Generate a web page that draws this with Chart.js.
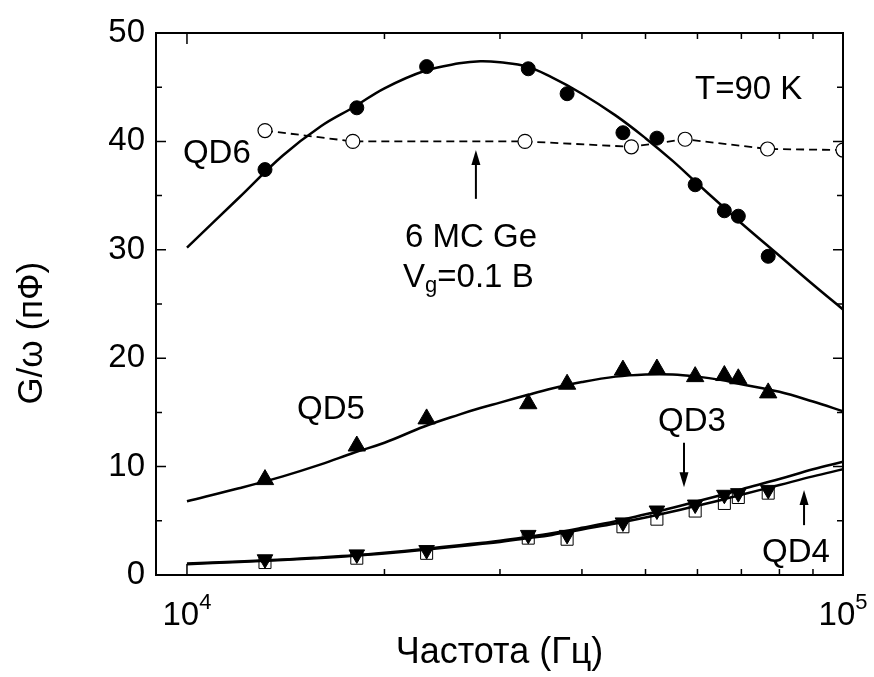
<!DOCTYPE html>
<html lang="ru">

<head>
  <meta charset="UTF-8">
  <title>G/ω vs frequency</title>
  <script src="https://cdn.jsdelivr.net/npm/chart.js@4"></script>
  <style>
    html,
    body {
      margin: 0;
      padding: 0;
      background: #fff;
    }
  </style>
</head>

<body>
  <canvas id="chart" width="874" height="677"></canvas>

  <script>
    // measured points (Hz / pF)
    const freqMeas = [13150, 18150, 23190, 33130, 37970, 46190, 52040, 59520, 65940, 69250, 76910];
    const qd6 = [37.4, 43.1, 46.9, 46.7, 44.4, 40.8, 40.3, 36.0, 33.6, 33.1, 29.4];
    const qd5 = [8.8, 11.9, 14.4, 15.8, 17.6, 18.9, 19.0, 18.3, 18.4, 18.1, 16.8];
    const qd3 = [1.45, 1.9, 2.3, 3.7, 3.7, 4.85, 5.95, 6.5, 7.4, 7.55, 7.85];
    const qd4 = [1.15, 1.55, 2.0, 3.4, 3.3, 4.45, 5.15, 5.9, 6.6, 7.15, 7.55];

    // 6 MC Ge, Vg = 0.1 B (open circles, dashed)
    const freqGe = [13150, 17900, 32750, 47580, 57450, 76740, 100000];
    const ge6 = [41.0, 40.0, 40.0, 39.5, 40.2, 39.3, 39.2];

    // fitted curves
    const freqFit = [10000, 12000, 14000, 16000, 18000, 20000, 23000, 26000, 28000, 30000, 33000,
      36000, 40000, 45000, 50000, 55000, 60000, 65000, 70000, 80000, 90000, 100000];
    const fitQD6 = [30.2, 34.8, 38.7, 41.4, 43.2, 44.9, 46.5, 47.2, 47.4, 47.3, 46.9,
      45.9, 44.4, 42.4, 40.3, 38.2, 36.1, 34.2, 32.45, 29.45, 26.8, 24.5];
    const fitQD5 = [6.8, 8.0, 9.1, 10.2, 11.3, 12.2, 13.7, 14.8, 15.4, 15.9, 16.6,
      17.2, 17.8, 18.3, 18.5, 18.5, 18.3, 18.0, 17.6, 16.9, 16.0, 15.1];
    const fitQD3 = [1.05, 1.25, 1.42, 1.62, 1.82, 2.05, 2.4, 2.75, 2.95, 3.15, 3.5,
      3.85, 4.35, 4.95, 5.6, 6.2, 6.8, 7.35, 7.9, 8.85, 9.75, 10.45];
    const fitQD4 = [1.0, 1.2, 1.38, 1.57, 1.77, 1.98, 2.32, 2.65, 2.85, 3.05, 3.38,
      3.7, 4.2, 4.75, 5.3, 5.85, 6.4, 6.9, 7.4, 8.3, 9.1, 9.75];

    // axis ticks
    const xMajor = [10000, 100000];
    const xMinor = [20000, 30000, 40000, 50000, 60000, 70000, 80000, 90000];
    const yTicks = [0, 5, 10, 15, 20, 25, 30, 35, 40, 45, 50];

    const FONT = '"Liberation Sans", Arial, sans-serif';

    const pts = (xs, ys) => xs.map((x, i) => ({ x: x, y: ys[i] }));

    // free text and arrows (data coordinates)
    const notes = [
      { text: 'QD6', x: 9860, y: 38.0 },
      { text: 'T=90 K', x: 59480, y: 43.9 },
      { text: 'QD5', x: 14720, y: 14.4 },
      { text: 'QD3', x: 52240, y: 13.3 },
      { text: 'QD4', x: 75250, y: 1.2 },
      { text: '6 MC Ge', x: 21500, y: 30.26 }
    ];
    const arrows = [
      { x: 27570, from: 34.7, to: 39.2 },
      { x: 57230, from: 12.2, to: 8.1 },
      { x: 87220, from: 4.6, to: 7.85 }
    ];

    const fitLine = (data) => ({
      data: data,
      showLine: true,
      borderColor: '#000',
      borderWidth: 2.5,
      pointRadius: 0,
      tension: 0.4,
      fill: false
    });

    const axisFrame = {
      id: 'axisFrame',
      afterDraw(chart) {
        const { ctx, chartArea: a, scales: { x, y } } = chart;
        ctx.save();
        ctx.strokeStyle = '#000';
        ctx.fillStyle = '#000';

        // ticks, inside, on all four sides
        ctx.lineWidth = 1.5;
        ctx.beginPath();
        const xt = (v, len) => {
          const px = x.getPixelForValue(v);
          ctx.moveTo(px, a.bottom); ctx.lineTo(px, a.bottom - len);
          ctx.moveTo(px, a.top); ctx.lineTo(px, a.top + len);
        };
        xMajor.forEach(v => xt(v, 11));
        xMinor.forEach(v => xt(v, 6));
        yTicks.forEach(v => {
          const py = y.getPixelForValue(v);
          const len = v % 10 === 0 ? 10 : 6;
          ctx.moveTo(a.left, py); ctx.lineTo(a.left + len, py);
          ctx.moveTo(a.right, py); ctx.lineTo(a.right - len, py);
        });
        ctx.stroke();

        ctx.lineWidth = 2;
        ctx.strokeRect(a.left, a.top, a.right - a.left, a.bottom - a.top);

        // x tick labels 10^4, 10^5
        ctx.textBaseline = 'alphabetic';
        ctx.textAlign = 'left';
        xMajor.forEach(v => {
          const exp = String(Math.round(Math.log10(v)));
          ctx.font = '33px ' + FONT;
          const wBase = ctx.measureText('10').width;
          ctx.font = '22px ' + FONT;
          const wExp = ctx.measureText(exp).width;
          const left = x.getPixelForValue(v) - (wBase + wExp) / 2;
          const base = a.bottom + 50;
          ctx.font = '33px ' + FONT;
          ctx.fillText('10', left, base);
          ctx.font = '22px ' + FONT;
          ctx.fillText(exp, left + wBase, base - 16);
        });

        // annotations
        ctx.font = '33px ' + FONT;
        notes.forEach(n => {
          ctx.fillText(n.text, x.getPixelForValue(n.x), y.getPixelForValue(n.y));
        });
        // V_g=0.1 B
        let vx = x.getPixelForValue(21350);
        const vy = y.getPixelForValue(26.57);
        ctx.fillText('V', vx, vy);
        vx += ctx.measureText('V').width;
        ctx.font = '22px ' + FONT;
        ctx.fillText('g', vx, vy + 5);
        vx += ctx.measureText('g').width;
        ctx.font = '33px ' + FONT;
        ctx.fillText('=0.1 B', vx, vy);

        // arrows
        arrows.forEach(ar => {
          const px = x.getPixelForValue(ar.x);
          const y0 = y.getPixelForValue(ar.from);
          const y1 = y.getPixelForValue(ar.to);
          const dir = y1 < y0 ? 1 : -1;
          ctx.lineWidth = 2;
          ctx.beginPath();
          ctx.moveTo(px, y0);
          ctx.lineTo(px, y1 + dir * 10);
          ctx.stroke();
          ctx.beginPath();
          ctx.moveTo(px, y1);
          ctx.lineTo(px - 4.5, y1 + dir * 15);
          ctx.lineTo(px + 4.5, y1 + dir * 15);
          ctx.closePath();
          ctx.fill();
        });
        ctx.restore();
      }
    };

    new Chart(document.getElementById('chart'), {
      type: 'scatter',
      data: {
        datasets: [
          {
            label: 'QD3',
            data: pts(freqMeas, qd3),
            pointStyle: 'triangle',
            rotation: 180,
            pointRadius: 9,
            backgroundColor: '#000',
            borderColor: '#000',
            borderWidth: 1
          },
          fitLine(pts(freqFit, fitQD6)),
          fitLine(pts(freqFit, fitQD5)),
          fitLine(pts(freqFit, fitQD3)),
          fitLine(pts(freqFit, fitQD4)),
          {
            label: 'QD4',
            data: pts(freqMeas, qd4),
            pointStyle: 'rect',
            pointRadius: 8.5,
            backgroundColor: '#fff',
            borderColor: '#000',
            borderWidth: 1
          },
          {
            label: 'QD5',
            data: pts(freqMeas, qd5),
            pointStyle: 'triangle',
            pointRadius: 10,
            backgroundColor: '#000',
            borderColor: '#000',
            borderWidth: 1
          },
          {
            label: 'QD6',
            data: pts(freqMeas, qd6),
            pointStyle: 'circle',
            pointRadius: 7,
            backgroundColor: '#000',
            borderColor: '#000',
            borderWidth: 1
          },
          {
            label: '6 MC Ge',
            data: pts(freqGe, ge6),
            showLine: true,
            borderDash: [8, 5],
            borderWidth: 1.8,
            borderColor: '#000',
            pointStyle: 'circle',
            pointRadius: 7,
            pointBorderWidth: 1.2,
            pointBackgroundColor: '#fff',
            pointBorderColor: '#000'
          }
        ]
      },
      options: {
        responsive: false,
        animation: false,
        devicePixelRatio: 1,
        layout: { padding: { top: 33, right: 31, bottom: 0, left: 0 } },
        plugins: {
          legend: { display: false },
          tooltip: { enabled: false }
        },
        scales: {
          x: {
            type: 'logarithmic',
            min: 8970,
            max: 100000,
            grid: { display: false, drawTicks: false },
            border: { display: false },
            ticks: { display: false },
            title: {
              display: true,
              text: 'Частота (Гц)',
              color: '#000',
              font: { family: FONT, size: 36 },
              padding: { top: 0, bottom: 2 }
            },
            afterFit(s) { s.height = 102; }
          },
          y: {
            min: 0,
            max: 50,
            grid: { display: false, drawTicks: false },
            border: { display: false },
            ticks: {
              stepSize: 10,
              color: '#000',
              padding: 11,
              font: { family: FONT, size: 33 }
            },
            title: {
              display: true,
              text: 'G/ω (пФ)      ',
              color: '#000',
              font: { family: FONT, size: 35 },
              padding: { top: 11 }
            },
            afterFit(s) { s.width = 156; }
          }
        }
      },
      plugins: [axisFrame]
    });
  </script>
</body>

</html>
